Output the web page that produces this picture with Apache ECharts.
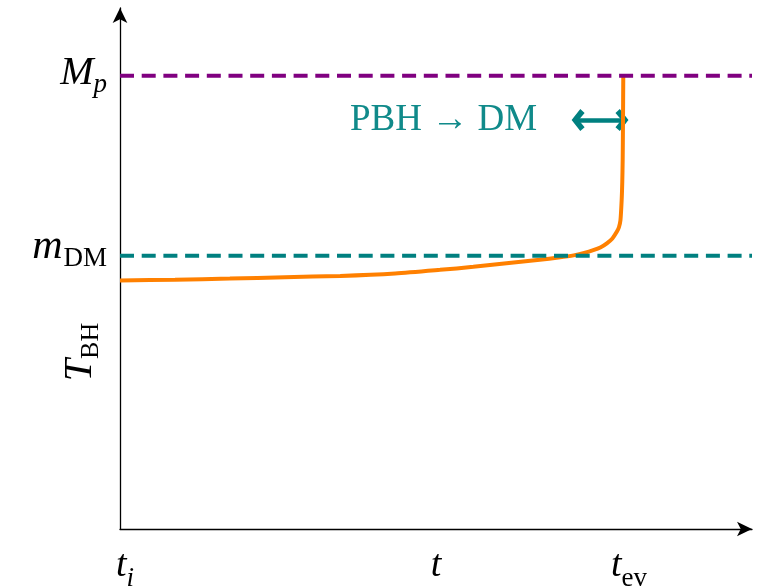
<!DOCTYPE html>
<html>
<head>
<meta charset="utf-8">
<script src="https://cdn.jsdelivr.net/npm/echarts@6/dist/echarts.min.js"></script>
<style>
  html, body { margin: 0; padding: 0; background: #ffffff; }
  #chart { width: 759px; height: 586px; }
</style>
</head>
<body>
<div id="chart"></div>
<script>
// Time in units of the evaporation time: t_i = 0, t_ev = 1
const timeTicks = [0, 1];
const timeTickLabels = ['{it|t}{subi|i}', '{it|t}{subev|ev}'];

// Temperature in units of the dark-matter mass: m_DM = 1
const mDM = 1;
const Mp = 1.658;
const tempTicks = [mDM, Mp];
const tempTickLabels = ['{itm|m}{subDM|DM}', '{itM|M}{subp|p}'];

// Black-hole temperature along its evaporation history
const curveTime = [0, 0.109, 0.218, 0.327, 0.437, 0.546, 0.635, 0.701, 0.767, 0.833,
                   0.870, 0.900, 0.921, 0.939, 0.954, 0.966, 0.977, 0.986, 0.990,
                   0.993, 0.9954, 0.9966, 0.9974, 0.9980, 0.9986];
const curveTemp = [0.909, 0.912, 0.916, 0.921, 0.926, 0.935, 0.948, 0.959, 0.972, 0.985,
                   0.993, 1.001, 1.010, 1.020, 1.031, 1.045, 1.063, 1.088, 1.104,
                   1.130, 1.204, 1.270, 1.350, 1.480, 1.658];

// Window in which the PBH evaporates into DM
const windowStart = 0.909;
const windowEnd = 0.996;
const windowLevel = 1.496;

const xMax = 1.254;
const yMax = 1.906;

const TEAL = '#008080';
const PURPLE = '#800080';
const ORANGE = '#ff8000';
const SERIF = '"Liberation Serif", "DejaVu Serif", serif';

const curveData = curveTime.map((t, i) => [t, curveTemp[i]]);

// Bold open chevron used as arrow heads (tip at the top of the path box)
const chevron = 'path://M10,0 L20,8 L16.5,12 L10,6.5 L3.5,12 L0,8 Z';

const italic = (size, lh, extra) => Object.assign({
  fontFamily: SERIF, fontStyle: 'italic', fontSize: size, lineHeight: lh,
  verticalAlign: 'top', color: '#000'
}, extra || {});
const roman = (size, lh, extra) => Object.assign({
  fontFamily: SERIF, fontStyle: 'normal', fontSize: size, lineHeight: lh,
  verticalAlign: 'top', color: '#000'
}, extra || {});

const chart = echarts.init(document.getElementById('chart'));

chart.setOption({
  animation: false,
  backgroundColor: '#ffffff',
  grid: { left: 120, right: 7, top: 8, bottom: 57, containLabel: false, outerBoundsMode: 'none' },
  xAxis: {
    type: 'value',
    min: 0,
    max: xMax,
    axisLine: {
      show: true,
      lineStyle: { color: '#000', width: 1.3 },
      symbol: ['none', 'arrow'],
      symbolSize: [11, 15]
    },
    axisTick: { show: false },
    splitLine: { show: false },
    axisLabel: {
      customValues: timeTicks,
      margin: 18,
      padding: [0, 0, 0, 10],
      formatter: v => timeTickLabels[timeTicks.indexOf(v)] || '',
      rich: {
        it: italic(38, 40),
        subi: italic(27, 27, { padding: [18, 0, 0, 0] }),
        subev: roman(27, 27, { padding: [18, 0, 0, 0] })
      }
    },
    name: 't',
    nameLocation: 'middle',
    nameGap: 17,
    nameMoveOverlap: false,
    nameTextStyle: {
      fontFamily: SERIF, fontStyle: 'italic', fontSize: 38, lineHeight: 40,
      color: '#000', verticalAlign: 'top'
    }
  },
  yAxis: {
    type: 'value',
    min: 0,
    max: yMax,
    axisLine: {
      show: true,
      lineStyle: { color: '#000', width: 1.3 },
      symbol: ['none', 'arrow'],
      symbolSize: [11, 15]
    },
    axisTick: { show: false },
    splitLine: { show: false },
    axisLabel: {
      customValues: tempTicks,
      margin: 13,
      formatter: v => tempTickLabels[tempTicks.indexOf(v)] || '',
      rich: {
        itM: italic(40, 44),
        subp: italic(27, 27, { padding: [18, 0, 0, 0] }),
        itm: italic(42, 59, { padding: [0, 1, 0, 0] }),
        subDM: roman(27, 27, { padding: [19, 0, 0, 0] })
      }
    }
  },
  graphic: [{
    type: 'text',
    x: 80,
    y: 352,
    rotation: Math.PI / 2,
    style: {
      text: '{it|T}{sub|BH}',
      align: 'center',
      verticalAlign: 'middle',
      rich: {
        it: italic(40, 40),
        sub: roman(26, 26, { padding: [18, 0, 0, 0] })
      }
    }
  }],
  series: [
    {
      // double-headed arrow marking the PBH -> DM window
      type: 'line',
      data: [],
      silent: true,
      markLine: {
        z: 1,
        silent: true,
        animation: false,
        symbol: [chevron, chevron],
        symbolSize: [22, 13],
        lineStyle: { color: TEAL, width: 4.5, type: 'solid' },
        label: {
          show: true,
          position: 'start',
          distance: 41,
          formatter: 'PBH \u2192 DM',
          fontFamily: SERIF,
          fontSize: 37,
          color: '#108a8a'
        },
        data: [[
          { coord: [windowStart, windowLevel] },
          { coord: [windowEnd, windowLevel] }
        ]]
      }
    },
    {
      // temperature of the black hole
      type: 'line',
      data: curveData,
      smooth: 0.25,
      showSymbol: false,
      symbol: 'none',
      lineStyle: { color: ORANGE, width: 4 },
      z: 3
    },
    {
      // dark-matter mass level
      type: 'line',
      data: [[0, mDM], [xMax, mDM]],
      showSymbol: false,
      symbol: 'none',
      lineStyle: { color: TEAL, width: 4, type: [14, 7.7] },
      z: 4
    },
    {
      // Planck mass level
      type: 'line',
      data: [[0, Mp], [xMax, Mp]],
      showSymbol: false,
      symbol: 'none',
      lineStyle: { color: PURPLE, width: 4, type: [14, 7.7] },
      z: 4
    }
  ]
});
</script>
</body>
</html>
